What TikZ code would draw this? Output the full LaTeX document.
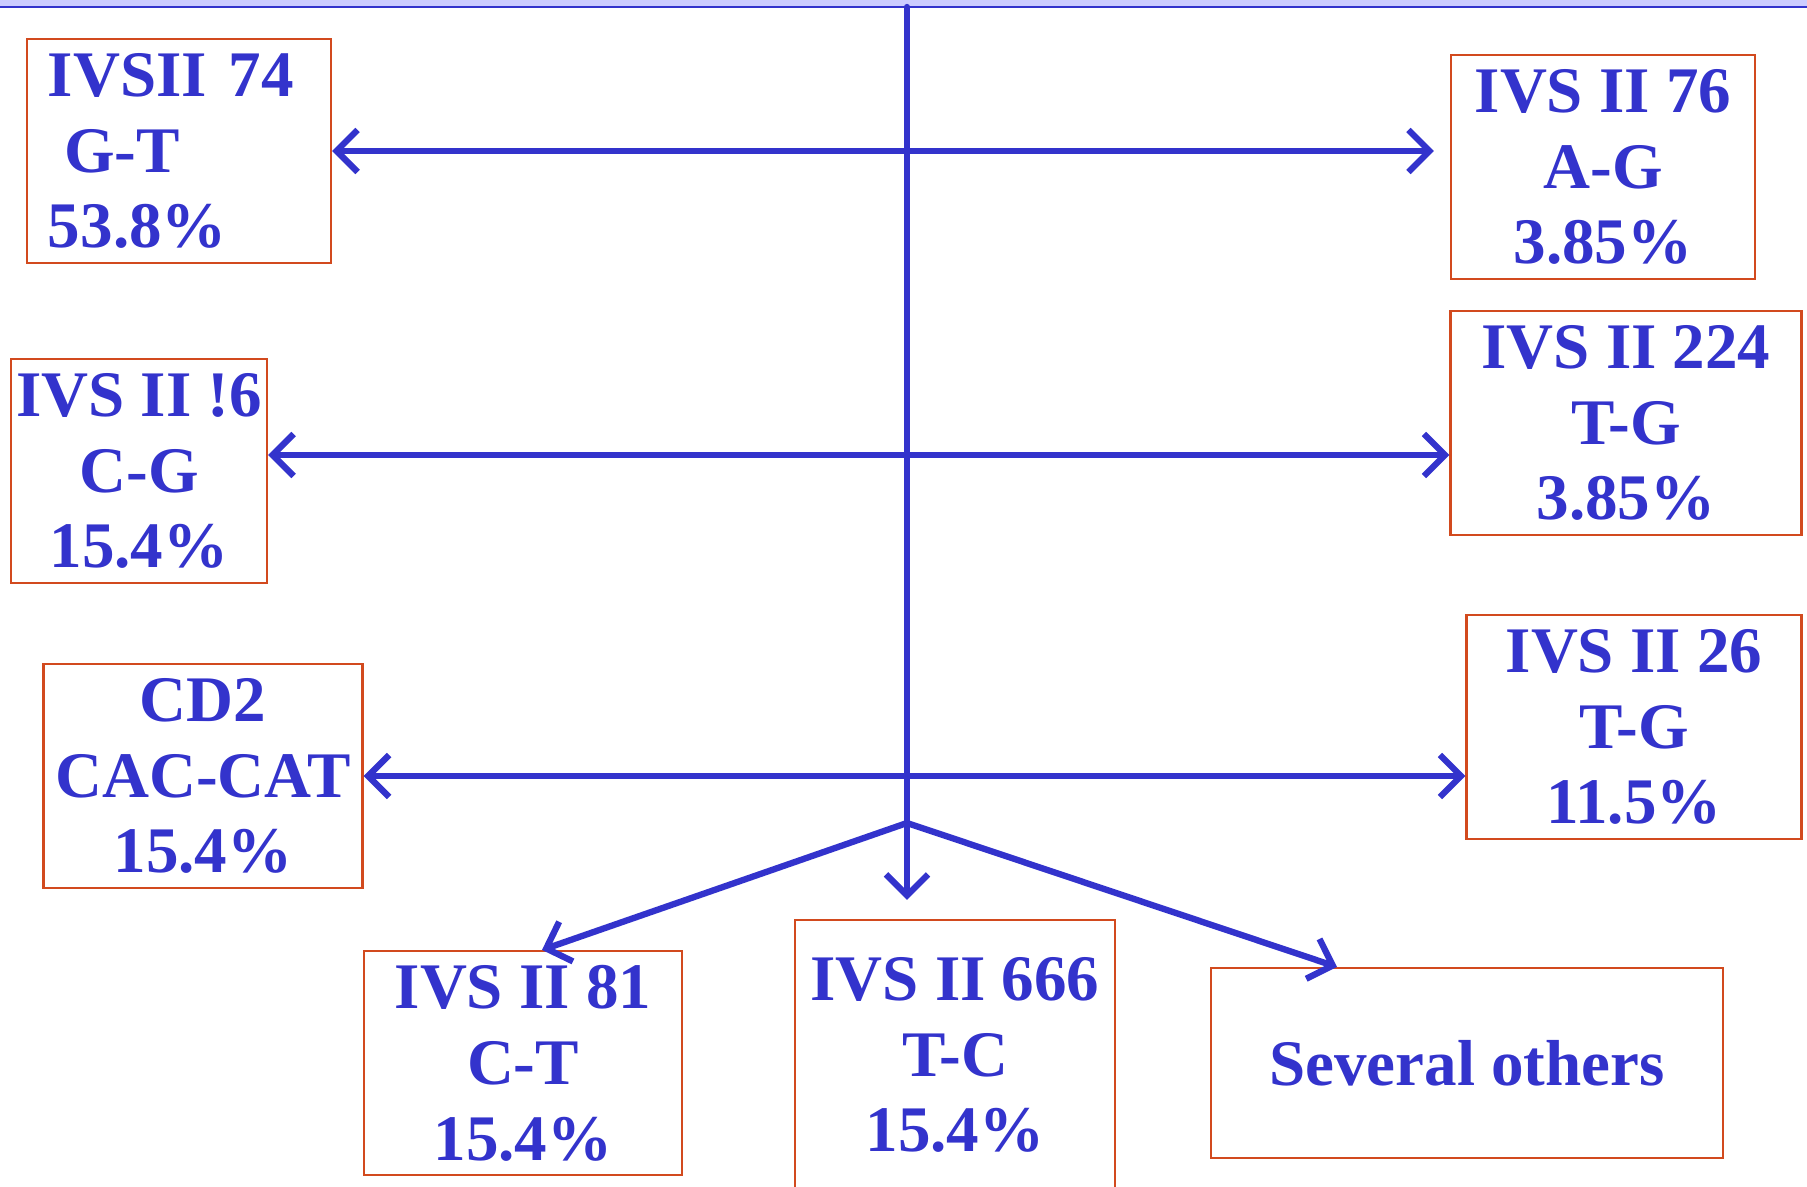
\documentclass[tikz,border=0pt]{standalone}
\usepackage{fontspec}
\setmainfont{Liberation Serif}
\usetikzlibrary{arrows.meta}
\definecolor{ink}{HTML}{3333CC}
\definecolor{frame}{HTML}{D24A1E}
\definecolor{band}{HTML}{CCCCFF}

\begin{document}
\begin{tikzpicture}[x=1cm, y=-1cm,
  every node/.style={font=\fontsize{18.5}{21.6}\selectfont\bfseries, text=ink},
  box/.style={draw=frame, line width=0.6pt, align=center, inner sep=0pt, minimum height=2.24cm},
  link/.style={draw=ink, line width=1.8pt, line cap=round, -{Straight Barb[length=2.1mm, width=4.2mm]}},
  twoway/.style={link, {Straight Barb[length=2.1mm, width=4.2mm]}-{Straight Barb[length=2.1mm, width=4.2mm]}}]
\useasboundingbox (0,0) rectangle (18.07,11.87);
% top band
\fill[band] (0,0) rectangle (18.07,0.065);
\draw[ink, line width=0.6pt] (0,0.068) -- (18.07,0.068);

% mutation boxes
\node[box, text width=2.62cm, inner xsep=0.21cm, align=left] (ivs74) at (1.79,1.51) {IVSII 74\\\hspace*{0.25em}G-T\\53.8\%};
\node[box, minimum width=3.04cm] (ivs76) at (16.03,1.67) {IVS II 76\\A-G\\3.85\%};
\node[box, minimum width=2.56cm] (ivs16) at (1.39,4.71) {IVS II !6\\C-G\\15.4\%};
\node[box, minimum width=3.51cm] (ivs224) at (16.26,4.23) {IVS II 224\\T-G\\3.85\%};
\node[box, minimum width=3.19cm] (cd2) at (2.03,7.76) {CD2\\CAC-CAT\\15.4\%};
\node[box, minimum width=3.35cm] (ivs26) at (16.34,7.27) {IVS II 26\\T-G\\11.5\%};
\node[box, minimum width=3.18cm] (ivs81) at (5.23,10.63) {IVS II 81\\C-T\\15.4\%};
\node[box, minimum width=3.20cm, minimum height=2.70cm] (ivs666) at (9.55,10.55) {IVS II 666\\T-C\\15.4\%};
\node[box, minimum width=5.12cm, minimum height=1.90cm] (others) at (14.67,10.63) {Several others};

% trunk and branches
\coordinate (top) at (9.07,0.07);
\coordinate (fork) at (9.07,8.23);
\draw[link, shorten >=0.19cm] (top) -- (top |- ivs666.north);
\draw[link] (fork) -- ([xshift=0.19cm]ivs81.north);
\draw[link] (fork) -- ([xshift=-1.30cm]others.north);

\draw[twoway, shorten >=0.16cm] (ivs74) -- (ivs74 -| ivs76.west);
\draw[twoway] ([yshift=0.16cm]ivs16.east) -- ([yshift=0.16cm]ivs16.east -| ivs224.west);
\draw[twoway] (cd2) -- (cd2 -| ivs26.west);
\end{tikzpicture}
\end{document}
